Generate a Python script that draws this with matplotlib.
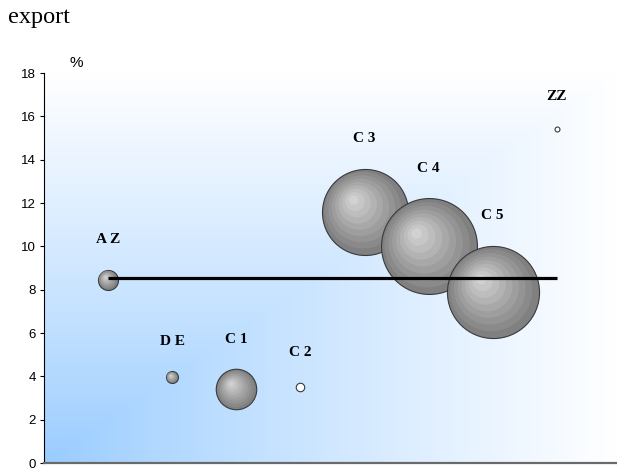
import matplotlib
matplotlib.use("Agg")
import matplotlib.pyplot as plt
import matplotlib.transforms as mtransforms
import numpy as np

# data
labels = ['A Z', 'D E', 'C 1', 'C 2', 'C 3', 'C 4', 'C 5', 'ZZ']
xpos = [1, 2, 3, 4, 5, 6, 7, 8]
export_pct = [8.45, 3.95, 3.4, 3.5, 11.6, 10.0, 7.9, 15.4]
bubble_size = [100, 36, 410, 18, 1850, 2300, 2120, 6]
avg_line = 8.55

W, H = 617, 470
fig = plt.figure(figsize=(W / 100, H / 100), dpi=100)
ax = fig.add_axes([44 / W, 7 / H, (W - 44) / W, 390 / H])
ax.set_xlim(0, (W - 44) / 64.1)
ax.set_ylim(0, 18)

# background gradient: blue in the lower left corner fading to white
gx, gy = np.meshgrid(np.linspace(0, 1, 300), np.linspace(0, 1, 300))
t = np.maximum(gx, gy) ** 0.9
blue = np.array([0.6, 0.8, 1.0])
img = blue[None, None, :] * (1 - t[..., None]) + t[..., None]
ax.imshow(img, extent=[0, 1, 0, 1], transform=ax.transAxes, origin='lower',
          aspect='auto', zorder=0, interpolation='bilinear')

# shaded bubbles
px = 0.72  # points per pixel
n_rings = 9
for xi, yi, si in zip(xpos, export_pct, bubble_size):
    r = np.sqrt(si)
    if r < 5:
        ax.scatter(xi, yi, s=(2 * r * px) ** 2, facecolor='white',
                   edgecolor='#3a3a3a', linewidth=0.8, zorder=3)
        continue
    for k in range(n_rings):
        f = 1 - k / n_rings
        dx = -0.28 * r * (1 - f) / 100
        dy = 0.30 * r * (1 - f) / 100
        tr = ax.transData + mtransforms.ScaledTranslation(dx, dy, fig.dpi_scale_trans)
        g = 0.5 + 0.36 * (1 - f)
        ax.scatter(xi, yi, s=(2 * r * f * px) ** 2, color=(g, g, g),
                   edgecolor='#3a3a3a' if k == 0 else 'none',
                   linewidth=0.8 if k == 0 else 0, transform=tr, zorder=3)

# bubble labels
for xi, yi, si, lab in zip(xpos, export_pct, bubble_size, labels):
    r = np.sqrt(si)
    ax.annotate(lab, (xi, yi), xytext=(0, (r + 30) * px), textcoords='offset points',
                ha='center', va='center', fontsize=11, fontweight='bold',
                family='Liberation Serif', zorder=6)

# average line
ax.plot([xpos[0], xpos[-1]], [avg_line, avg_line], color='black', lw=2.3,
        solid_capstyle='butt', zorder=5)

# axes styling
ax.spines['top'].set_visible(False)
ax.spines['right'].set_visible(False)
ax.spines['left'].set_color('black')
ax.spines['left'].set_linewidth(0.8)
ax.spines['bottom'].set_color('#6a6a6a')
ax.spines['bottom'].set_linewidth(1.6)
ax.set_xticks([])
ax.set_yticks(range(0, 19, 2))
ax.tick_params(axis='y', direction='out', length=2.9, width=0.8, pad=2.9,
               labelsize=9.5)
for lbl in ax.get_yticklabels():
    lbl.set_family('Liberation Sans')

fig.text(76 / W, 1 - 63 / H, '%', ha='center', va='center', fontsize=11,
         family='Liberation Sans')
fig.text(8 / W, 1 - 23 / H, 'export', ha='left', va='baseline', fontsize=17.5,
         family='Liberation Serif')

fig.savefig('out.png', dpi=100)
